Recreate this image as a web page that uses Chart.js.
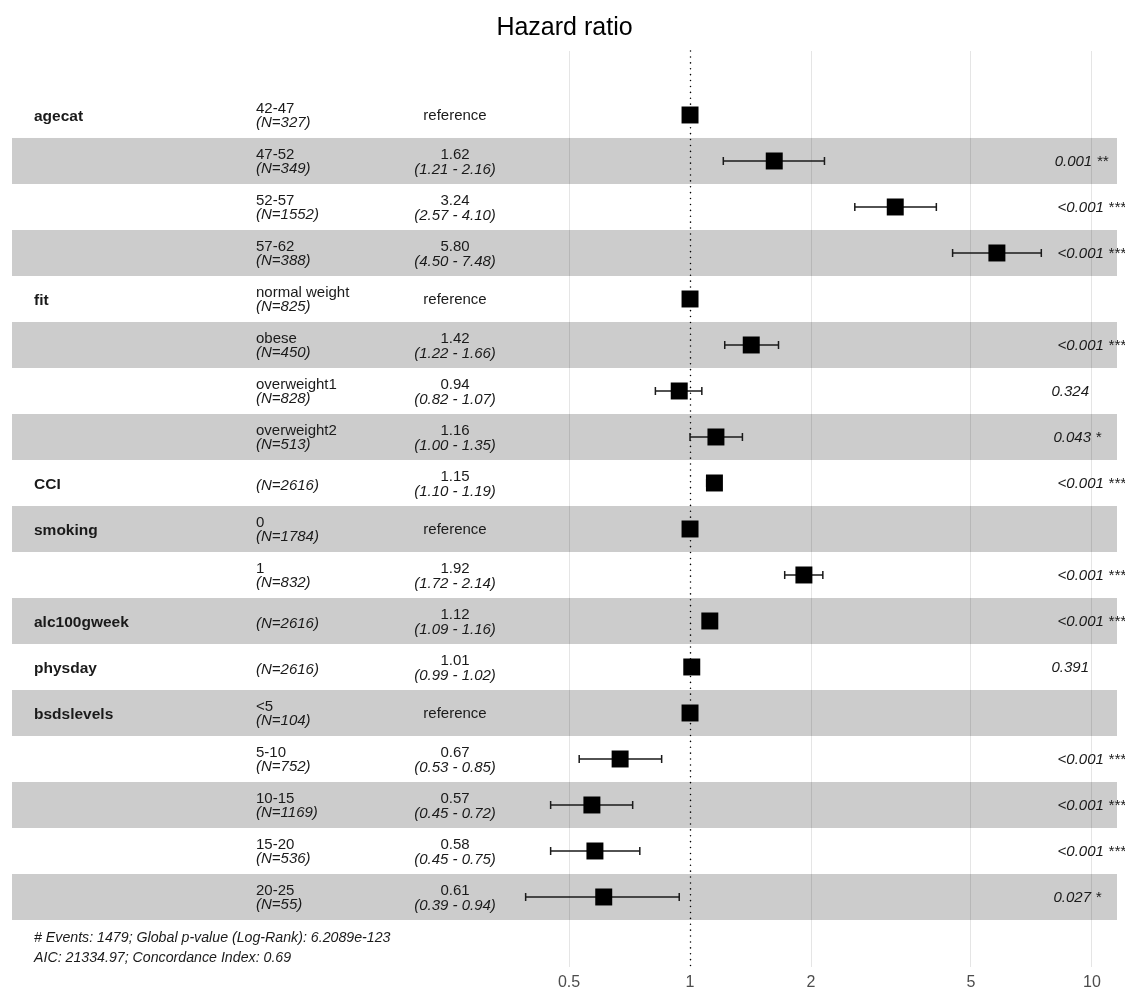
<!DOCTYPE html>
<html lang="en">
<head>
<meta charset="UTF-8">
<title>Hazard ratio</title>
<script src="https://cdn.jsdelivr.net/npm/chart.js"></script>
<style>
  body { margin: 0; background: #fff; overflow: hidden; }
  #wrap { width: 1125px; height: 989px; }
</style>
</head>
<body>
<div id="wrap"><canvas id="forest"></canvas></div>
<script>
// cox model rows, top to bottom
var variables = ['agecat', '', '', '', 'fit', '', '', '', 'CCI', 'smoking', '', 'alc100gweek', 'physday', 'bsdslevels', '', '', '', ''];
var levels = ['42-47', '47-52', '52-57', '57-62', 'normal weight', 'obese', 'overweight1', 'overweight2', '', '0', '1', '', '', '<5', '5-10', '10-15', '15-20', '20-25'];
var counts = [327, 349, 1552, 388, 825, 450, 828, 513, 2616, 1784, 832, 2616, 2616, 104, 752, 1169, 536, 55];
var hazard = [1, 1.62, 3.24, 5.80, 1, 1.42, 0.94, 1.16, 1.15, 1, 1.92, 1.12, 1.01, 1, 0.67, 0.57, 0.58, 0.61];
var lower = [null, 1.21, 2.57, 4.50, null, 1.22, 0.82, 1.00, 1.10, null, 1.72, 1.09, 0.99, null, 0.53, 0.45, 0.45, 0.39];
var upper = [null, 2.16, 4.10, 7.48, null, 1.66, 1.07, 1.35, 1.19, null, 2.14, 1.16, 1.02, null, 0.85, 0.72, 0.75, 0.94];
var pvalues = ['', '0.001', '<0.001', '<0.001', '', '<0.001', '0.324', '0.043', '<0.001', '', '<0.001', '<0.001', '0.391', '', '<0.001', '<0.001', '<0.001', '0.027'];
var stars = ['', '**', '***', '***', '', '***', '', '*', '***', '', '***', '***', '', '', '***', '***', '***', '*'];
var xTicks = [0.5, 1, 2, 5, 10];
var footer = ['# Events: 1479; Global p-value (Log-Rank): 6.2089e-123', 'AIC: 21334.97; Concordance Index: 0.69'];

var FONT = '"Liberation Sans", Arial, sans-serif';

var points = hazard.map(function (v, i) { return { x: v, y: i + 1 }; });

// grey stripes behind every second row
var stripes = {
  id: 'stripes',
  beforeDraw: function (chart) {
    var ctx = chart.ctx, y = chart.scales.y, a = chart.chartArea;
    ctx.save();
    ctx.fillStyle = '#cccccc';
    for (var i = 1; i < hazard.length; i += 2) {
      var top = y.getPixelForValue(i + 0.5);
      var bot = y.getPixelForValue(i + 1.5);
      ctx.fillRect(a.left, top, a.right - a.left, bot - top);
    }
    ctx.restore();
  }
};

// reference line at HR = 1 and the confidence intervals
var whiskers = {
  id: 'whiskers',
  beforeDatasetsDraw: function (chart) {
    var ctx = chart.ctx, x = chart.scales.x, y = chart.scales.y, a = chart.chartArea;
    ctx.save();
    var x1 = Math.round(x.getPixelForValue(1)) + 0.5;
    ctx.strokeStyle = '#000';
    ctx.lineWidth = 1.5;
    ctx.lineCap = 'round';
    ctx.setLineDash([0.1, 5.8]);
    ctx.beginPath();
    ctx.moveTo(x1, a.top);
    ctx.lineTo(x1, a.bottom);
    ctx.stroke();
    ctx.setLineDash([]);
    ctx.lineCap = 'butt';

    ctx.strokeStyle = '#1a1a1a';
    ctx.lineWidth = 1.5;
    for (var i = 0; i < hazard.length; i++) {
      if (lower[i] == null) continue;
      var yy = y.getPixelForValue(i + 1);
      var xl = x.getPixelForValue(lower[i]);
      var xh = x.getPixelForValue(upper[i]);
      ctx.beginPath();
      ctx.moveTo(xl, yy); ctx.lineTo(xh, yy);
      ctx.moveTo(xl, yy - 4); ctx.lineTo(xl, yy + 4);
      ctx.moveTo(xh, yy - 4); ctx.lineTo(xh, yy + 4);
      ctx.stroke();
    }
    ctx.restore();
  }
};

// table columns and footnote
var table = {
  id: 'table',
  afterDraw: function (chart) {
    var ctx = chart.ctx, y = chart.scales.y;
    ctx.save();
    ctx.fillStyle = '#1a1a1a';
    ctx.textBaseline = 'middle';
    for (var i = 0; i < hazard.length; i++) {
      var yy = y.getPixelForValue(i + 1);

      if (variables[i]) {
        ctx.font = 'bold 15.5px ' + FONT;
        ctx.textAlign = 'left';
        ctx.fillText(variables[i], 34, yy + 2);
      }

      ctx.textAlign = 'left';
      if (levels[i]) {
        ctx.font = '15px ' + FONT;
        ctx.fillText(levels[i], 256, yy - 6);
        ctx.font = 'italic 15px ' + FONT;
        ctx.fillText('(N=' + counts[i] + ')', 256, yy + 8);
      } else {
        ctx.font = 'italic 15px ' + FONT;
        ctx.fillText('(N=' + counts[i] + ')', 256, yy + 3);
      }

      ctx.textAlign = 'center';
      if (lower[i] == null) {
        ctx.font = '15px ' + FONT;
        ctx.fillText('reference', 455, yy + 1);
      } else {
        ctx.font = '15px ' + FONT;
        ctx.fillText(hazard[i].toFixed(2), 455, yy - 6);
        ctx.font = 'italic 15px ' + FONT;
        ctx.fillText('(' + lower[i].toFixed(2) + ' - ' + upper[i].toFixed(2) + ')', 455, yy + 9);
      }

      // p-value label shifted right by a fifth of its own width
      if (pvalues[i]) {
        var label = stars[i] ? pvalues[i] + ' ' + stars[i] : pvalues[i];
        ctx.font = 'italic 15px ' + FONT;
        ctx.textAlign = 'left';
        var w = ctx.measureText(label).width;
        ctx.fillText(label, 1044 + 0.2 * w, yy + 1);
      }
    }

    ctx.font = 'italic 14.2px ' + FONT;
    ctx.textAlign = 'left';
    ctx.fillText(footer[0], 34, 938);
    ctx.fillText(footer[1], 34, 958);
    ctx.restore();
  }
};

new Chart(document.getElementById('forest'), {
  type: 'scatter',
  data: {
    datasets: [{
      data: points,
      pointStyle: 'rect',
      pointRadius: 12,
      pointHoverRadius: 12,
      backgroundColor: '#000',
      borderWidth: 0
    }]
  },
  options: {
    responsive: true,
    maintainAspectRatio: false,
    animation: false,
    events: [],
    layout: { autoPadding: false, padding: { left: 12, right: 8, top: 0, bottom: 0 } },
    plugins: {
      legend: { display: false },
      tooltip: { enabled: false },
      title: {
        display: true,
        text: 'Hazard ratio',
        color: '#000',
        font: { family: FONT, size: 25, weight: 'normal' },
        padding: { top: 13, bottom: 8 }
      }
    },
    scales: {
      x: {
        type: 'logarithmic',
        min: 0.02057,
        max: 11.54,
        afterBuildTicks: function (scale) {
          scale.ticks = xTicks.map(function (v) { return { value: v }; });
        },
        afterFit: function (scale) {
          scale.height = 22;
          scale.paddingLeft = 0;
          scale.paddingRight = 0;
        },
        border: { display: false },
        grid: {
          drawTicks: false,
          lineWidth: 1,
          color: function (c) {
            return c.tick && c.tick.value === 1 ? 'rgba(0,0,0,0)' : 'rgba(0,0,0,0.1)';
          }
        },
        ticks: {
          autoSkip: false,
          maxRotation: 0,
          padding: 6,
          color: '#4d4d4d',
          font: { family: FONT, size: 16 },
          callback: function (v) { return String(v); }
        }
      },
      y: {
        type: 'linear',
        display: false,
        reverse: true,
        min: -0.391,
        max: 19.522
      }
    }
  },
  plugins: [stripes, whiskers, table]
});
</script>
</body>
</html>
